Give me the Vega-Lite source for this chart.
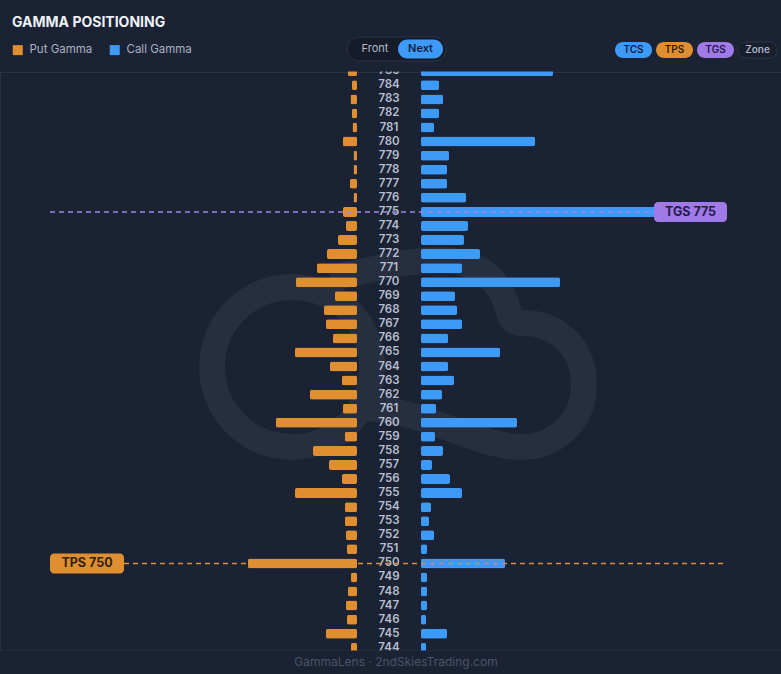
{
  "$schema": "https://vega.github.io/schema/vega-lite/v6.json",
  "width": 781,
  "height": 578,
  "autosize": {"type": "none"},
  "padding": {"top": 72, "left": 0, "right": 0, "bottom": 24},
  "background": "#1b2233",
  "datasets": {
    "gamma": [
      {"strike": 785, "put": 9, "call": 132},
      {"strike": 784, "put": 5, "call": 18},
      {"strike": 783, "put": 6.5, "call": 22},
      {"strike": 782, "put": 5, "call": 18},
      {"strike": 781, "put": 4.5, "call": 13},
      {"strike": 780, "put": 14, "call": 114},
      {"strike": 779, "put": 3.5, "call": 28},
      {"strike": 778, "put": 3.5, "call": 26},
      {"strike": 777, "put": 7, "call": 26},
      {"strike": 776, "put": 3.5, "call": 45},
      {"strike": 775, "put": 14, "call": 234},
      {"strike": 774, "put": 11, "call": 47},
      {"strike": 773, "put": 19, "call": 43},
      {"strike": 772, "put": 30, "call": 59},
      {"strike": 771, "put": 40, "call": 41},
      {"strike": 770, "put": 61, "call": 139},
      {"strike": 769, "put": 22, "call": 34},
      {"strike": 768, "put": 33, "call": 36},
      {"strike": 767, "put": 31, "call": 41},
      {"strike": 766, "put": 24, "call": 27},
      {"strike": 765, "put": 62, "call": 79},
      {"strike": 764, "put": 27, "call": 27},
      {"strike": 763, "put": 15, "call": 33},
      {"strike": 762, "put": 47, "call": 21},
      {"strike": 761, "put": 14, "call": 15},
      {"strike": 760, "put": 81, "call": 96},
      {"strike": 759, "put": 12, "call": 14},
      {"strike": 758, "put": 44, "call": 22},
      {"strike": 757, "put": 28, "call": 11},
      {"strike": 756, "put": 15, "call": 29},
      {"strike": 755, "put": 62, "call": 41},
      {"strike": 754, "put": 12, "call": 10},
      {"strike": 753, "put": 12, "call": 8},
      {"strike": 752, "put": 11, "call": 13},
      {"strike": 751, "put": 10, "call": 6},
      {"strike": 750, "put": 109, "call": 84},
      {"strike": 749, "put": 6, "call": 6},
      {"strike": 748, "put": 9, "call": 6},
      {"strike": 747, "put": 11, "call": 6},
      {"strike": 746, "put": 10, "call": 5},
      {"strike": 745, "put": 31, "call": 26},
      {"strike": 744, "put": 6, "call": 5}
    ],
    "tgs": [{"strike": 775, "label": "TGS 775"}],
    "tps": [{"strike": 750, "label": "TPS 750"}]
  },
  "layer": [
    {
      "data": {"values": [{"name": "logo"}]},
      "mark": {
        "type": "point",
        "shape": "M-184,-3 A80,80 0 1 0 -24,-3 A80,80 0 1 0 -184,-3 Z M-66,-92 C4,-105 74,-130 104,-80 C116,-60 110,-47 126,-47 C164,-47 188,-20 188,15 C188,50 160,77 126,77 C80,77 30,40 -30,38",
        "size": 4,
        "filled": false,
        "strokeWidth": 26,
        "color": "#262e40",
        "opacity": 1
      },
      "encoding": {"x": {"value": 396}, "y": {"value": 298}}
    },
    {
      "data": {"name": "gamma"},
      "mark": {"type": "bar", "orient": "horizontal", "height": 10, "cornerRadius": 2},
      "encoding": {
        "y": {
          "field": "strike",
          "type": "quantitative",
          "scale": {"domain": [743.84, 784.95], "nice": false, "zero": false, "padding": 0},
          "axis": null
        },
        "x": {
          "field": "put",
          "type": "quantitative",
          "scale": {"domain": [0, 357], "range": [357, 0], "nice": false, "padding": 0},
          "axis": null
        },
        "color": {
          "datum": "Put Gamma",
          "scale": {"domain": ["Put Gamma", "Call Gamma"], "range": ["#df8f2f", "#3d9bf7"]},
          "legend": {
            "orient": "none",
            "legendX": 12,
            "legendY": -28,
            "direction": "horizontal",
            "title": null,
            "symbolType": "square",
            "symbolSize": 100,
            "symbolStrokeWidth": 0,
            "labelFont": "Inter",
            "labelFontSize": 11.5,
            "labelColor": "#aab2c3",
            "labelOffset": 6,
            "columnPadding": 16
          }
        }
      }
    },
    {
      "data": {"name": "gamma"},
      "mark": {"type": "bar", "orient": "horizontal", "height": 10, "cornerRadius": 2},
      "encoding": {
        "y": {"field": "strike", "type": "quantitative", "axis": null},
        "x": {
          "field": "call",
          "type": "quantitative",
          "scale": {"domain": [0, 360], "range": [421, 781], "nice": false, "padding": 0},
          "axis": null
        },
        "color": {"datum": "Call Gamma"}
      }
    },
    {
      "data": {"name": "gamma"},
      "mark": {"type": "text", "font": "Inter", "fontSize": 11.5, "fontWeight": 600, "color": "#b6bed0", "align": "center", "baseline": "middle"},
      "encoding": {
        "y": {"field": "strike", "type": "quantitative", "axis": null},
        "x": {"value": 389},
        "text": {"field": "strike", "type": "quantitative", "format": "d"}
      }
    },
    {
      "data": {"name": "tgs"},
      "mark": {"type": "rule", "strokeDash": [5, 4], "strokeWidth": 1.5, "color": "#9d86e6"},
      "encoding": {
        "y": {"field": "strike", "type": "quantitative", "axis": null},
        "x": {"value": 50},
        "x2": {"value": 654}
      }
    },
    {
      "data": {"name": "tps"},
      "mark": {"type": "rule", "strokeDash": [5, 4], "strokeWidth": 1.5, "color": "#d98f35"},
      "encoding": {
        "y": {"field": "strike", "type": "quantitative", "axis": null},
        "x": {"value": 124},
        "x2": {"value": 724}
      }
    },
    {
      "data": {"values": [{"name": "header mask"}]},
      "mark": {"type": "rect", "fill": "#1b2233"},
      "encoding": {"x": {"value": 0}, "x2": {"value": 781}, "y": {"value": -72}, "y2": {"value": -0.5}}
    },
    {
      "data": {"values": [{"name": "footer mask"}]},
      "mark": {"type": "rect", "fill": "#1b2233"},
      "encoding": {"x": {"value": 0}, "x2": {"value": 781}, "y": {"value": 578.5}, "y2": {"value": 602}}
    },
    {
      "data": {"name": "tgs"},
      "mark": {"type": "bar", "orient": "horizontal", "height": 20, "cornerRadius": 4, "color": "#a07ae6"},
      "encoding": {
        "y": {"field": "strike", "type": "quantitative", "axis": null},
        "x": {"value": 654},
        "x2": {"value": 727}
      }
    },
    {
      "data": {"name": "tgs"},
      "mark": {"type": "text", "font": "Inter", "fontSize": 12.5, "fontWeight": 700, "color": "#241a4c", "align": "center", "baseline": "middle"},
      "encoding": {
        "y": {"field": "strike", "type": "quantitative", "axis": null},
        "x": {"value": 690.5},
        "text": {"field": "label"}
      }
    },
    {
      "data": {"name": "tps"},
      "mark": {"type": "bar", "orient": "horizontal", "height": 20, "cornerRadius": 4, "color": "#df8f2f"},
      "encoding": {
        "y": {"field": "strike", "type": "quantitative", "axis": null},
        "x": {"value": 50},
        "x2": {"value": 124}
      }
    },
    {
      "data": {"name": "tps"},
      "mark": {"type": "text", "font": "Inter", "fontSize": 12.5, "fontWeight": 700, "color": "#33220c", "align": "center", "baseline": "middle"},
      "encoding": {
        "y": {"field": "strike", "type": "quantitative", "axis": null},
        "x": {"value": 87},
        "text": {"field": "label"}
      }
    },
    {
      "data": {"values": [{"label": "GAMMA POSITIONING"}]},
      "mark": {"type": "text", "font": "Inter", "fontSize": 14, "fontWeight": 700, "color": "#eef1f7", "align": "left", "baseline": "alphabetic"},
      "encoding": {"x": {"value": 12}, "y": {"value": -45}, "text": {"field": "label"}}
    },
    {
      "data": {"values": [{"label": "toggle"}]},
      "mark": {"type": "rect", "cornerRadius": 12, "fill": "#151b29", "stroke": "#2b3347", "strokeWidth": 1},
      "encoding": {"x": {"value": 347}, "x2": {"value": 446}, "y": {"value": -35}, "y2": {"value": -11}}
    },
    {
      "data": {"values": [{"label": "Next"}]},
      "mark": {"type": "rect", "cornerRadius": 10, "fill": "#3d9bf7"},
      "encoding": {"x": {"value": 398}, "x2": {"value": 443}, "y": {"value": -32.5}, "y2": {"value": -13.5}}
    },
    {
      "data": {"values": [{"label": "Front"}]},
      "mark": {"type": "text", "font": "Inter", "fontSize": 11, "color": "#b3bbcc", "align": "center", "baseline": "middle"},
      "encoding": {"x": {"value": 375}, "y": {"value": -23}, "text": {"field": "label"}}
    },
    {
      "data": {"values": [{"label": "Next"}]},
      "mark": {"type": "text", "font": "Inter", "fontSize": 11, "fontWeight": 600, "color": "#10213d", "align": "center", "baseline": "middle"},
      "encoding": {"x": {"value": 420.5}, "y": {"value": -23}, "text": {"field": "label"}}
    },
    {
      "data": {"values": [{"label": "TCS"}]},
      "mark": {"type": "rect", "cornerRadius": 8, "fill": "#3d9bf7"},
      "encoding": {"x": {"value": 615}, "x2": {"value": 652}, "y": {"value": -30}, "y2": {"value": -14}}
    },
    {
      "data": {"values": [{"label": "TCS"}]},
      "mark": {"type": "text", "font": "Inter", "fontSize": 10, "fontWeight": 600, "color": "#0f2040", "align": "center", "baseline": "middle"},
      "encoding": {"x": {"value": 633.5}, "y": {"value": -22}, "text": {"field": "label"}}
    },
    {
      "data": {"values": [{"label": "TPS"}]},
      "mark": {"type": "rect", "cornerRadius": 8, "fill": "#df8f2f"},
      "encoding": {"x": {"value": 656}, "x2": {"value": 693}, "y": {"value": -30}, "y2": {"value": -14}}
    },
    {
      "data": {"values": [{"label": "TPS"}]},
      "mark": {"type": "text", "font": "Inter", "fontSize": 10, "fontWeight": 600, "color": "#2b1a07", "align": "center", "baseline": "middle"},
      "encoding": {"x": {"value": 674.5}, "y": {"value": -22}, "text": {"field": "label"}}
    },
    {
      "data": {"values": [{"label": "TGS"}]},
      "mark": {"type": "rect", "cornerRadius": 8, "fill": "#a07ae6"},
      "encoding": {"x": {"value": 697}, "x2": {"value": 734}, "y": {"value": -30}, "y2": {"value": -14}}
    },
    {
      "data": {"values": [{"label": "TGS"}]},
      "mark": {"type": "text", "font": "Inter", "fontSize": 10, "fontWeight": 600, "color": "#24164a", "align": "center", "baseline": "middle"},
      "encoding": {"x": {"value": 715.5}, "y": {"value": -22}, "text": {"field": "label"}}
    },
    {
      "data": {"values": [{"label": "Zone"}]},
      "mark": {"type": "rect", "cornerRadius": 8, "fill": "#181e2e", "stroke": "#2c3447", "strokeWidth": 1},
      "encoding": {"x": {"value": 738}, "x2": {"value": 777}, "y": {"value": -30}, "y2": {"value": -14}}
    },
    {
      "data": {"values": [{"label": "Zone"}]},
      "mark": {"type": "text", "font": "Inter", "fontSize": 10, "fontWeight": 600, "color": "#a9b1c2", "align": "center", "baseline": "middle"},
      "encoding": {"x": {"value": 757.5}, "y": {"value": -22}, "text": {"field": "label"}}
    },
    {
      "data": {"values": [{"label": "GammaLens · 2ndSkiesTrading.com"}]},
      "mark": {"type": "text", "font": "Inter", "fontSize": 12, "color": "#4b5468", "align": "center", "baseline": "middle"},
      "encoding": {"x": {"value": 396}, "y": {"value": 590}, "text": {"field": "label"}}
    }
  ],
  "resolve": {"scale": {"x": "independent"}},
  "config": {
    "view": {"stroke": "#2a3245", "strokeWidth": 1},
    "font": "Inter"
  }
}
